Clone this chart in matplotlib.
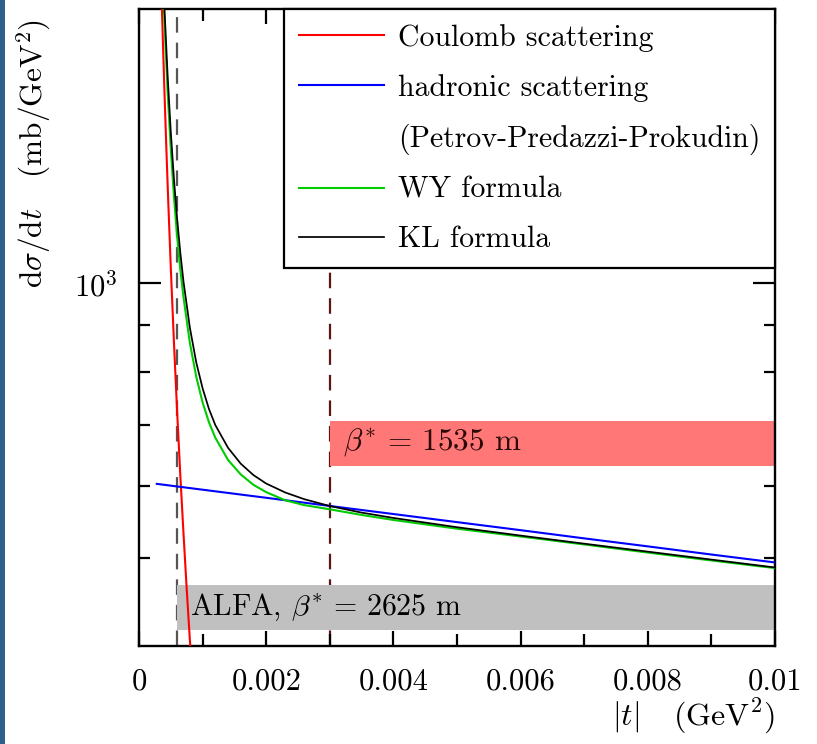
import matplotlib
matplotlib.use('Agg')
import matplotlib.pyplot as plt
from matplotlib.lines import Line2D
from matplotlib.patches import Rectangle
from matplotlib.ticker import NullFormatter, FixedLocator

plt.rcParams['font.family'] = ['cmr10', 'DejaVu Serif']
plt.rcParams['mathtext.fontset'] = 'cm'
plt.rcParams['axes.formatter.use_mathtext'] = True

# ---------------- data ----------------
t_coulomb = [0.00034, 0.00036, 0.00038, 0.0004, 0.00043, 0.00046, 0.0005,
             0.00055, 0.0006, 0.00065, 0.0007, 0.00075, 0.0008, 0.00085]
coulomb = [2249, 2006, 1801, 1625, 1406, 1229, 1040,
           860, 722, 615, 531, 462, 406, 360]

t_hadronic = [0.00028, 0.001, 0.002, 0.003, 0.004, 0.005, 0.006,
              0.007, 0.008, 0.009, 0.01]
hadronic = [602.5, 593.7, 581.7, 569.8, 558.3, 547, 536,
            525, 514.5, 504, 494]

t_formula = [0.00039, 0.0004, 0.00045, 0.0005, 0.00055, 0.0006, 0.00065,
             0.0007, 0.0008, 0.0009, 0.001, 0.0011, 0.0012, 0.0014,
             0.0016, 0.0018, 0.002, 0.0023, 0.0026, 0.003, 0.0035,
             0.004, 0.005, 0.006, 0.007, 0.008, 0.009, 0.01]
wy_formula = [2010, 1935, 1625, 1405, 1245, 1125, 1035,
              965, 860, 790, 740, 704, 677, 640,
              617, 601, 590, 578, 571, 565, 557,
              550, 538, 527.5, 517, 506.5, 496.5, 487]
kl_formula = [2087, 2008, 1691, 1466, 1300, 1176, 1080,
              1004, 894, 819, 767, 728, 699, 660,
              634, 616, 603, 589.5, 579.6, 569.7, 560.3,
              552.8, 540, 528.7, 518, 507.7, 497.6, 487.8]

legend_labels = ['Coulomb scattering', 'hadronic scattering',
                 '(Petrov-Predazzi-Prokudin)', 'WY formula', 'KL formula']

x_ticks = [0, 0.002, 0.004, 0.006, 0.008, 0.01]
x_tick_labels = ['0', '0.002', '0.004', '0.006', '0.008', '0.01']
x_minor_ticks = [0.001, 0.003, 0.005, 0.007, 0.009]
y_major_ticks = [1000]
y_major_labels = [r'$10^3$']
y_minor_ticks = [500, 600, 700, 800, 900]

t_alfa = 0.0006          # ALFA, beta* = 2625 m  (gray)
t_b1535 = 0.003          # beta* = 1535 m       (red)
band_alfa = (417, 467)
band_b1535 = (631, 707)
x_range = (0, 0.01)
y_range = (400, 2000)

# ---------------- figure ----------------
W, H = 817, 744
fig = plt.figure(figsize=(W / 100, H / 100), dpi=100)
ax = fig.add_axes([139 / W, 1 - 646 / H, (775 - 139) / W, (646 - 9) / H])
ax.set_yscale('log')
ax.set_xlim(*x_range)
ax.set_ylim(*y_range)

# dashed verticals (under the bands)
ax.axvline(t_alfa, color='#555555', lw=1.6, dashes=(7, 4.5), zorder=1)
ax.axvline(t_b1535, color='#5a1515', lw=1.6, dashes=(7, 4.5), zorder=1)

# bands
ax.fill_between([t_alfa, x_range[1]], band_alfa[0], band_alfa[1],
                color='#c0c0c0', lw=0, zorder=2)
ax.fill_between([t_b1535, x_range[1]], band_b1535[0], band_b1535[1],
                color='#ff7777', lw=0, zorder=2)
ax.text(0.00080, 441, r'ALFA, $\beta^{*}\,=\,2625$ m', fontsize=21.5,
        va='center', ha='left', zorder=3)
ax.text(0.00321, 669, r'$\beta^{*}\,=\,1535$ m', fontsize=22.5,
        va='center', ha='left', color='#2a0a0a', zorder=3)

# curves
lw = 1.5
ax.plot(t_coulomb, coulomb, color='#ff0000', lw=lw, zorder=4)
ax.plot(t_hadronic, hadronic, color='#0000ff', lw=lw, zorder=4)
ax.plot(t_formula, wy_formula, color='#00cc00', lw=lw, zorder=4)
ax.plot(t_formula, kl_formula, color='black', lw=1.25, zorder=5)

# axes styling
for s in ax.spines.values():
    s.set_linewidth(1.7)
ax.set_xticks(x_ticks)
ax.set_xticklabels(x_tick_labels)
ax.xaxis.set_minor_locator(FixedLocator(x_minor_ticks))
ax.yaxis.set_major_locator(FixedLocator(y_major_ticks))
ax.set_yticklabels(y_major_labels)
ax.yaxis.set_minor_locator(FixedLocator(y_minor_ticks))
ax.yaxis.set_minor_formatter(NullFormatter())
ax.tick_params(which='both', direction='in', top=True, right=True,
               labelsize=22, width=1.6)
ax.tick_params(axis='x', which='major', length=11, pad=16)
ax.tick_params(axis='x', which='minor', length=8.5)
ax.tick_params(axis='y', which='major', length=16, pad=15)
ax.tick_params(axis='y', which='minor', length=8)

ax.set_xlabel(r'$|t|$   $(\mathrm{GeV}^2)$', fontsize=23, loc='right',
              labelpad=1)
ax.set_ylabel(r'$\mathrm{d}\sigma/\mathrm{d}t$   $(\mathrm{mb/GeV}^2)$',
              fontsize=22.5, loc='top')
ax.yaxis.set_label_coords(-0.136, 0.984)

# legend
handles = [Line2D([], [], color='#ff0000', lw=lw),
           Line2D([], [], color='#0000ff', lw=lw),
           Line2D([], [], color='none', lw=lw),
           Line2D([], [], color='#00cc00', lw=lw),
           Line2D([], [], color='black', lw=1.25)]
leg = ax.legend(handles, legend_labels, loc='upper right', fontsize=21.5,
                frameon=True, fancybox=False, framealpha=1,
                edgecolor='black', borderaxespad=0, handlelength=2.86,
                handletextpad=0.46, labelspacing=0.73, borderpad=0.5)
leg.get_frame().set_linewidth(1.6)
leg.set_zorder(10)

# left border strip of the original screenshot
fig.add_artist(Rectangle((0, 0), 4.5 / W, 1, transform=fig.transFigure,
                         color='#2e5f8c', lw=0))

fig.savefig('out.png', dpi=100)
